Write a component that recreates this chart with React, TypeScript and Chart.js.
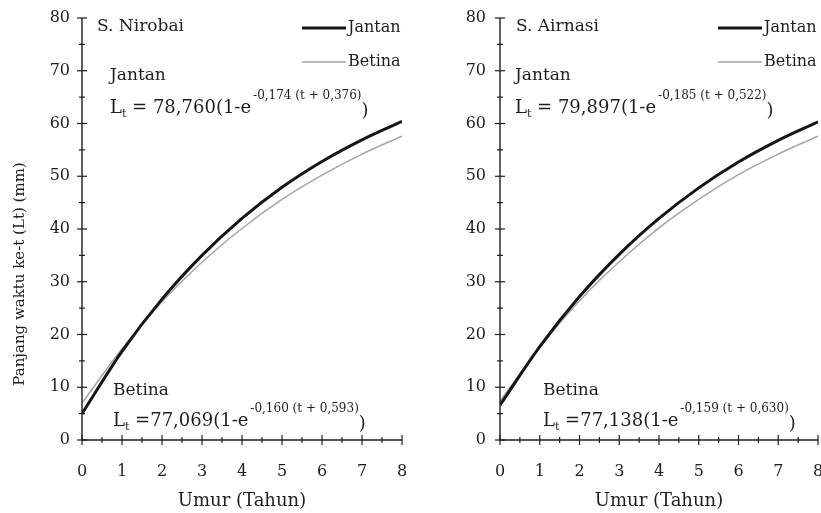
import React, { useEffect, useRef } from 'react';
import { Chart, registerables } from 'chart.js';

Chart.register(...registerables);

// ---- data ----
const years = [0, 1, 2, 3, 4, 5, 6, 7, 8];
const seriesLabels = ['Jantan', 'Betina'];
const panelNames = ['S. Nirobai', 'S. Airnasi'];

const nirobaiJantan = [5.0, 16.8, 26.7, 35.0, 42.0, 47.9, 52.8, 56.9, 60.4];
const nirobaiBetina = [7.0, 17.3, 26.2, 33.7, 40.1, 45.6, 50.2, 54.2, 57.6];
const airnasiJantan = [6.6, 17.7, 27.2, 35.2, 42.0, 47.8, 52.7, 56.8, 60.3];
const airnasiBetina = [7.4, 17.6, 26.4, 33.8, 40.2, 45.6, 50.3, 54.2, 57.6];

const nirobaiJantanEq = [' = 78,760(1-e', '-0,174 (t + 0,376)'];
const nirobaiBetinaEq = [' =77,069(1-e', '-0,160 (t + 0,593)'];
const airnasiJantanEq = [' = 79,897(1-e', '-0,185 (t + 0,522)'];
const airnasiBetinaEq = [' =77,138(1-e', '-0,159 (t + 0,630)'];

const yTicks = [0, 10, 20, 30, 40, 50, 60, 70, 80];
const xTicks = [0, 1, 2, 3, 4, 5, 6, 7, 8];
const xTitle = 'Umur (Tahun)';
const yTitle = 'Panjang waktu ke-t (Lt) (mm)';

const FONT = "'DejaVu Serif', serif";
const INK = '#1e1e1e';

type PanelSpec = {
  name: string;
  jantan: number[];
  betina: number[];
  jEq: string[];
  bEq: string[];
  width: number;
  yAxisWidth: number;
  rightPad: number;
  yLabelPad: number;
  showYTitle: boolean;
  nameX: number;
  jX: number;
  bX: number;
};

function drawEq(ctx: CanvasRenderingContext2D, x: number, baseline: number, eq: string[]) {
  ctx.textBaseline = 'alphabetic';
  ctx.textAlign = 'left';
  ctx.font = `18px ${FONT}`;
  ctx.fillText('L', x, baseline);
  let cx = x + ctx.measureText('L').width;
  ctx.font = `11px ${FONT}`;
  ctx.fillText('t', cx, baseline + 4);
  cx += ctx.measureText('t').width;
  ctx.font = `18px ${FONT}`;
  ctx.fillText(eq[0], cx, baseline);
  cx += ctx.measureText(eq[0]).width + 2;
  ctx.font = `12px ${FONT}`;
  ctx.fillText(eq[1], cx, baseline - 14);
  cx += ctx.measureText(eq[1]).width;
  ctx.font = `18px ${FONT}`;
  ctx.fillText(')', cx, baseline + 3);
}

function decorPlugin(p: PanelSpec) {
  return {
    id: 'decor',
    afterDraw(chart: any) {
      const { ctx, chartArea: ca } = chart;
      const x = chart.scales.x;
      const y = chart.scales.y;
      ctx.save();
      ctx.strokeStyle = INK;
      ctx.lineWidth = 1.4;
      const top = y.getPixelForValue(yTicks[yTicks.length - 1]);
      const x0 = x.getPixelForValue(xTicks[0]);
      const y0 = y.getPixelForValue(yTicks[0]);
      ctx.beginPath();
      ctx.moveTo(x0, top);
      ctx.lineTo(x0, y0);
      ctx.lineTo(x.getPixelForValue(xTicks[xTicks.length - 1]), y0);
      ctx.stroke();
      ctx.lineWidth = 1.2;
      // y ticks (major + minor)
      for (let i = 0; i < yTicks.length; i++) {
        const py = y.getPixelForValue(yTicks[i]);
        ctx.beginPath();
        ctx.moveTo(x0 - 5, py);
        ctx.lineTo(x0 + 5, py);
        ctx.stroke();
        if (i < yTicks.length - 1) {
          const pm = y.getPixelForValue((yTicks[i] + yTicks[i + 1]) / 2);
          ctx.beginPath();
          ctx.moveTo(x0 - 3, pm);
          ctx.lineTo(x0 + 3, pm);
          ctx.stroke();
        }
      }
      for (let i = 0; i < xTicks.length; i++) {
        const px = x.getPixelForValue(xTicks[i]);
        ctx.beginPath();
        ctx.moveTo(px, y0 - 5);
        ctx.lineTo(px, y0 + 5);
        ctx.stroke();
        if (i < xTicks.length - 1) {
          const pm = x.getPixelForValue((xTicks[i] + xTicks[i + 1]) / 2);
          ctx.beginPath();
          ctx.moveTo(pm, y0 - 3);
          ctx.lineTo(pm, y0 + 3);
          ctx.stroke();
        }
      }
      ctx.fillStyle = INK;
      // panel name
      ctx.textAlign = 'left';
      ctx.textBaseline = 'middle';
      ctx.font = `17px ${FONT}`;
      ctx.fillText(p.name, ca.left + p.nameX, 27);
      // legend
      const ds = chart.data.datasets;
      const legendY = [28, 62];
      ds.forEach((d: any, i: number) => {
        ctx.strokeStyle = d.borderColor;
        ctx.lineWidth = d.borderWidth;
        ctx.beginPath();
        ctx.moveTo(ca.right - 100, legendY[i]);
        ctx.lineTo(ca.right - 56, legendY[i]);
        ctx.stroke();
        ctx.font = `16px ${FONT}`;
        ctx.textBaseline = 'middle';
        ctx.fillText(d.label, ca.right - 54, legendY[i]);
      });
      // equation blocks
      ctx.font = `17px ${FONT}`;
      ctx.textBaseline = 'middle';
      ctx.fillText(seriesLabels[0], ca.left + p.jX, 76);
      drawEq(ctx, ca.left + p.jX, 113, p.jEq);
      ctx.font = `17px ${FONT}`;
      ctx.textBaseline = 'middle';
      ctx.fillText(seriesLabels[1], ca.left + p.bX, 391);
      drawEq(ctx, ca.left + p.bX, 426, p.bEq);
      // y title
      if (p.showYTitle) {
        ctx.save();
        ctx.translate(20, 274);
        ctx.rotate(-Math.PI / 2);
        ctx.textAlign = 'center';
        ctx.textBaseline = 'middle';
        ctx.font = `15px ${FONT}`;
        ctx.fillText(yTitle, 0, 0);
        ctx.restore();
      }
      ctx.restore();
    },
  };
}

function makeConfig(p: PanelSpec): any {
  return {
    type: 'line',
    data: {
      datasets: [
        {
          label: seriesLabels[0],
          data: years.map((t, i) => ({ x: t, y: p.jantan[i] })),
          borderColor: '#151515',
          borderWidth: 3,
          pointRadius: 0,
          cubicInterpolationMode: 'monotone',
          fill: false,
        },
        {
          label: seriesLabels[1],
          data: years.map((t, i) => ({ x: t, y: p.betina[i] })),
          borderColor: '#a5a5a5',
          borderWidth: 1.5,
          pointRadius: 0,
          cubicInterpolationMode: 'monotone',
          fill: false,
        },
      ],
    },
    options: {
      responsive: false,
      animation: false,
      layout: { padding: { left: 0, top: 18, right: p.rightPad, bottom: 0 } },
      plugins: { legend: { display: false }, tooltip: { enabled: false } },
      scales: {
        x: {
          type: 'linear',
          min: xTicks[0],
          max: xTicks[xTicks.length - 1],
          afterBuildTicks: (s: any) => {
            s.ticks = xTicks.map((v) => ({ value: v }));
          },
          afterFit: (s: any) => {
            s.height = 73;
            s.paddingRight = 0;
            s.paddingLeft = 0;
          },
          grid: { display: false },
          border: { display: false },
          ticks: { color: INK, font: { family: FONT, size: 16 }, padding: 14, maxRotation: 0, autoSkip: false },
          title: { display: true, text: xTitle, color: INK, font: { family: FONT, size: 18 }, padding: { top: 0, bottom: 1 } },
        },
        y: {
          type: 'linear',
          min: yTicks[0],
          max: yTicks[yTicks.length - 1],
          afterBuildTicks: (s: any) => {
            s.ticks = yTicks.map((v) => ({ value: v }));
          },
          afterFit: (s: any) => {
            s.width = p.yAxisWidth;
            s.paddingTop = 0;
            s.paddingBottom = 0;
          },
          grid: { display: false },
          border: { display: false },
          ticks: { color: INK, font: { family: FONT, size: 16 }, padding: p.yLabelPad },
        },
      },
    },
    plugins: [decorPlugin(p)],
  };
}

const panels: PanelSpec[] = [
  {
    name: panelNames[0], jantan: nirobaiJantan, betina: nirobaiBetina,
    jEq: nirobaiJantanEq, bEq: nirobaiBetinaEq,
    width: 410, yAxisWidth: 82, rightPad: 8, yLabelPad: 4, showYTitle: true,
    nameX: 15, jX: 28, bX: 31,
  },
  {
    name: panelNames[1], jantan: airnasiJantan, betina: airnasiBetina,
    jEq: airnasiJantanEq, bEq: airnasiBetinaEq,
    width: 411, yAxisWidth: 90, rightPad: 3, yLabelPad: 6, showYTitle: false,
    nameX: 16, jX: 15, bX: 43,
  },
];

function Panel({ spec, left }: { spec: PanelSpec; left: number }) {
  const ref = useRef<HTMLCanvasElement | null>(null);
  useEffect(() => {
    if (!ref.current) return;
    const chart = new Chart(ref.current, makeConfig(spec));
    return () => chart.destroy();
  }, [spec]);
  return (
    <canvas
      ref={ref}
      width={spec.width}
      height={513}
      style={{ position: 'absolute', left, top: 0, width: spec.width, height: 513 }}
    />
  );
}

export default function App() {
  useEffect(() => {
    document.body.style.margin = '0';
  }, []);
  return (
    <div style={{ position: 'relative', width: 821, height: 513, background: '#fff', overflow: 'hidden' }}>
      <Panel spec={panels[0]} left={0} />
      <Panel spec={panels[1]} left={410} />
    </div>
  );
}
